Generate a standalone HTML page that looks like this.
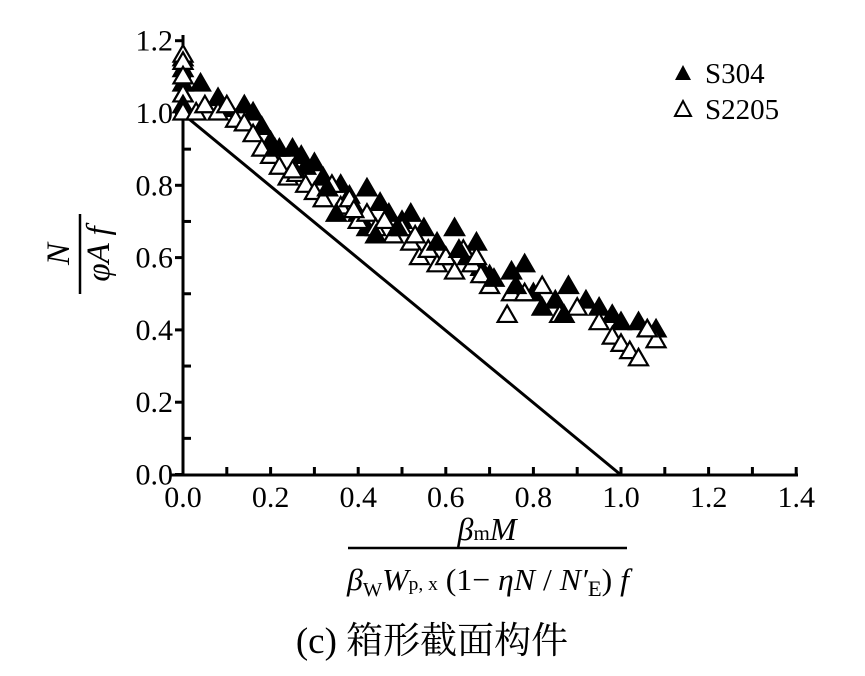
<!DOCTYPE html>
<html><head><meta charset="utf-8"><style>
html,body{margin:0;padding:0;background:#fff;}
svg{display:block;font-family:"Liberation Serif","Noto Serif CJK SC",serif;}
</style></head><body>
<svg id="s" width="865" height="676" viewBox="0 0 865 676" xmlns="http://www.w3.org/2000/svg">
<g id="ticks" stroke="#000" stroke-width="3" fill="none"></g>
<line x1="183" y1="35" x2="183" y2="476" stroke="#000" stroke-width="3"/>
<line x1="170" y1="475" x2="798" y2="475" stroke="#000" stroke-width="3"/>
<line x1="183" y1="114" x2="621" y2="475" stroke="#000" stroke-width="3"/>
<g id="pts"></g>
<g font-size="30" text-anchor="end" id="ylab"></g>
<g font-size="30" text-anchor="middle" id="xlab"></g>
<!-- legend -->
<polygon points="675,80 691,80 683,65" fill="#000"/>
<text x="705" y="83" font-size="29">S304</text>
<polygon points="675,116 691,116 683,101" fill="#fff" stroke="#000" stroke-width="2"/>
<text x="705" y="119" font-size="29">S2205</text>
<!-- y label -->
<g transform="translate(80,254) rotate(-90)" font-size="33" font-style="italic" text-anchor="middle">
<text x="0" y="-11">N</text>
<line x1="-40" y1="0" x2="40" y2="0" stroke="#000" stroke-width="2.5"/>
<text x="0" y="29">φA f</text>
</g>
<!-- x label -->
<text x="487" y="540" font-size="32" text-anchor="middle"><tspan font-style="italic">β</tspan><tspan font-size="21">m</tspan><tspan font-style="italic">M</tspan></text>
<line x1="348" y1="548" x2="627" y2="548" stroke="#000" stroke-width="2.5"/>
<text x="488" y="590" font-size="31" text-anchor="middle" textLength="282" lengthAdjust="spacingAndGlyphs"><tspan font-style="italic">β</tspan><tspan font-size="20" dy="6">W</tspan><tspan font-style="italic" dy="-6">W</tspan><tspan font-size="19">p, x</tspan> (1− <tspan font-style="italic">ηN</tspan> / <tspan font-style="italic">N′</tspan><tspan font-size="22" dy="6">E</tspan><tspan dy="-6">) </tspan><tspan font-style="italic">f</tspan></text>
<text x="432" y="653" font-size="37" text-anchor="middle">(c) 箱形截面构件</text>
</svg>
<script>
function X(v){return 183+v*438;}function Y(v){return 474.5-v*361.5;}
var t=document.getElementById('ticks'),h='';
for(var i=1;i<=14;i++){h+='<line x1="'+X(i/10)+'" y1="475" x2="'+X(i/10)+'" y2="467"/>';}
for(var j=0;j<=12;j++){var y=Y(j/10);if(j%2==0)h+='<line x1="175" y1="'+y+'" x2="183" y2="'+y+'"/>';else h+='<line x1="183" y1="'+y+'" x2="191" y2="'+y+'"/>';}
t.innerHTML=h;
var yl='';for(var j=0;j<=6;j++){yl+='<text x="173" y="'+(Y(j*0.2)+10)+'">'+(j*0.2).toFixed(1)+'</text>';}
document.getElementById('ylab').innerHTML=yl;
var xl='';for(var i=0;i<=7;i++){xl+='<text x="'+X(i*0.2)+'" y="507">'+(i*0.2).toFixed(1)+'</text>';}
document.getElementById('xlab').innerHTML=xl;
var A=[[0,1.15],[0,1.12],[0,1.08],[0,1.05],[0,1.02],[0.04,1.08],[0.08,1.04],[0.1,1.01],[0.14,1.02],[0.16,1.0],[0.18,0.96],[0.2,0.92],[0.22,0.9],[0.25,0.9],[0.28,0.85],[0.3,0.86],[0.32,0.82],[0.36,0.8],[0.38,0.77],[0.4,0.72],[0.42,0.79],[0.42,0.68],[0.45,0.75],[0.47,0.72],[0.5,0.7],[0.52,0.72],[0.55,0.68],[0.56,0.62],[0.6,0.6],[0.62,0.68],[0.65,0.6],[0.67,0.64],[0.68,0.57],[0.7,0.55],[0.75,0.56],[0.78,0.58],[0.8,0.5],[0.82,0.46],[0.85,0.48],[0.88,0.52],[0.92,0.48],[0.95,0.46],[0.98,0.44],[1.0,0.42],[1.04,0.42],[1.06,0.4],[1.08,0.4],[0.76,0.52],[0.58,0.64],[0.44,0.66],[0.35,0.72],[0.27,0.88],[0.21,0.9],[0.33,0.79],[0.49,0.68],[0.63,0.62],[0.71,0.54],[0.87,0.44]];
var B=[[0,1.16],[0,1.14],[0,1.1],[0,1.05],[0,1.0],[0.03,1.0],[0.05,1.02],[0.08,1.0],[0.1,1.02],[0.12,0.98],[0.14,0.97],[0.16,0.94],[0.18,0.9],[0.2,0.88],[0.22,0.85],[0.24,0.82],[0.26,0.83],[0.28,0.8],[0.3,0.78],[0.32,0.76],[0.34,0.8],[0.36,0.74],[0.38,0.76],[0.4,0.7],[0.42,0.72],[0.44,0.68],[0.46,0.7],[0.48,0.66],[0.5,0.68],[0.52,0.64],[0.54,0.6],[0.56,0.62],[0.58,0.58],[0.6,0.6],[0.62,0.56],[0.64,0.62],[0.66,0.58],[0.68,0.55],[0.7,0.52],[0.74,0.44],[0.75,0.5],[0.78,0.5],[0.82,0.52],[0.86,0.44],[0.9,0.46],[0.95,0.42],[0.98,0.38],[1.0,0.36],[1.02,0.34],[1.04,0.32],[1.08,0.37],[1.06,0.4],[0.25,0.84],[0.39,0.73],[0.53,0.66],[0.67,0.6]];
var p='';
function tri(d,f){var x=X(d[0]),y=Y(d[1]);return '<polygon points="'+(x-9.5)+','+(y+6.5)+' '+(x+9.5)+','+(y+6.5)+' '+x+','+(y-10)+'" fill="'+f+'" stroke="#000" stroke-width="2.2"/>';}
for(var k=0;k<Math.max(A.length,B.length);k++){if(A[k])p+=tri(A[k],'#000');if(B[k])p+=tri(B[k],'#fff');}
document.getElementById('pts').innerHTML=p;
</script>
</body></html>
